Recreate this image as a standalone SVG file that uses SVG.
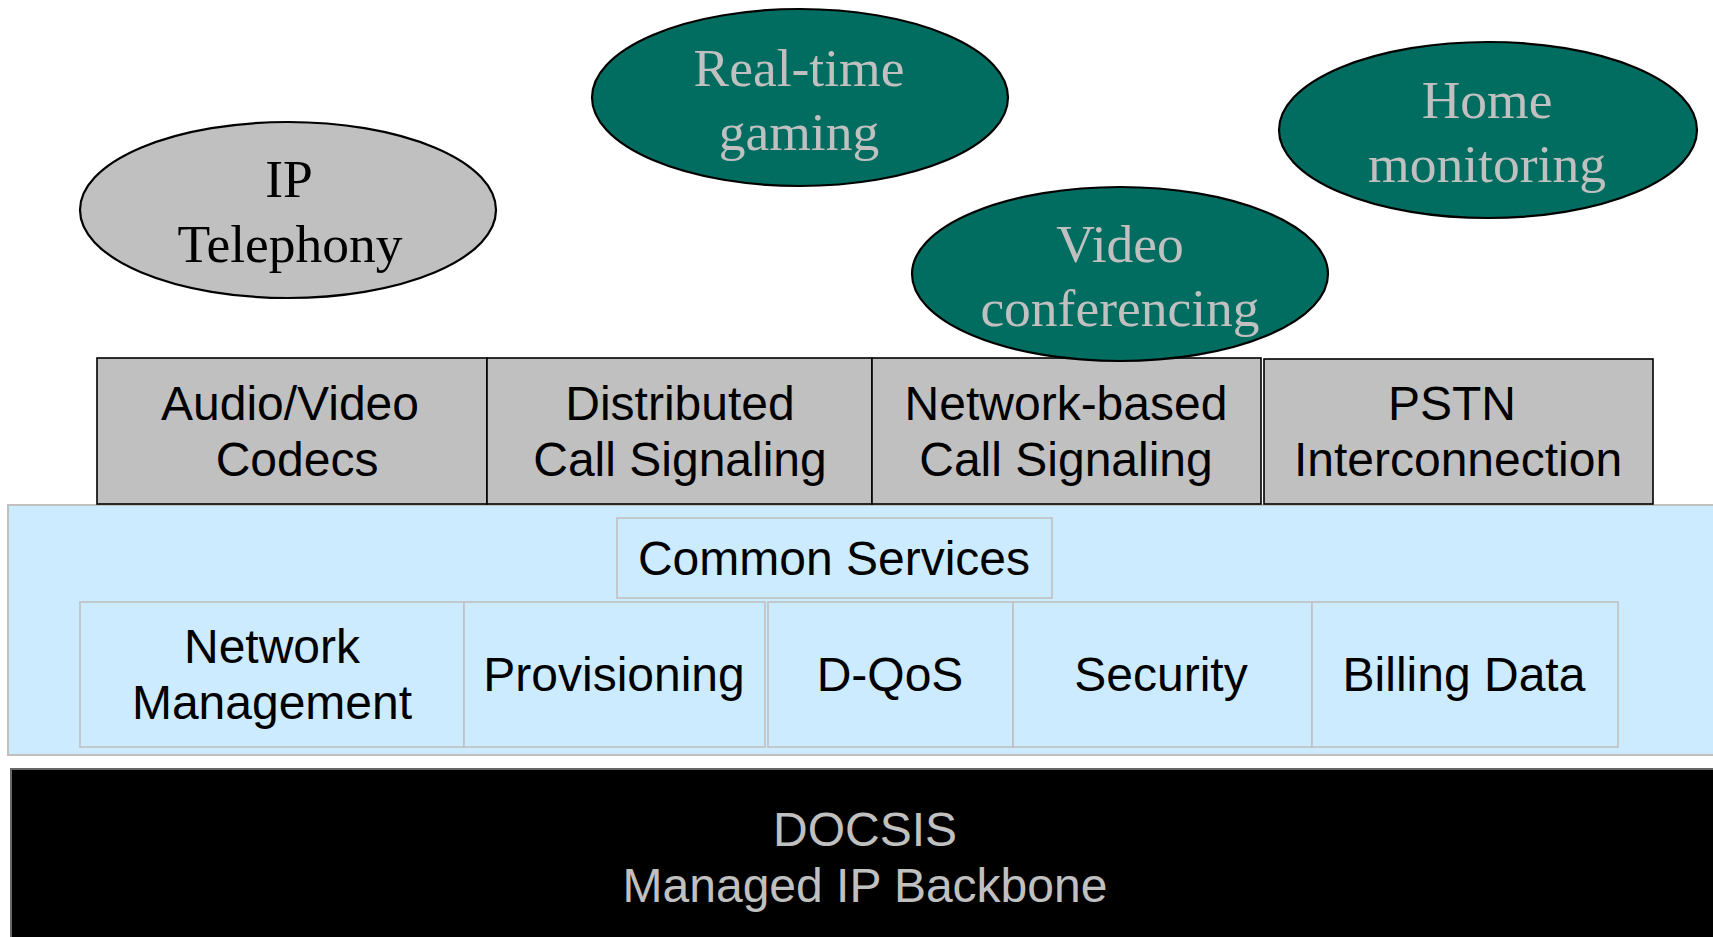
<svg xmlns="http://www.w3.org/2000/svg" width="1713" height="937" viewBox="0 0 1713 937">
<style>
.serif{font-family:"Liberation Serif","Times New Roman",serif;font-size:53.5px;text-anchor:middle}
.sans{font-family:"Liberation Sans",Arial,sans-serif;font-size:48px;text-anchor:middle}
.app{fill:#016D60;stroke:#000;stroke-width:2.2}
.apptxt{fill:#C0C0C0}
.gbox{fill:#C0C0C0;stroke:#000;stroke-width:1.6}
.sub{fill:#CCEBFF;stroke:#C0C0C0;stroke-width:1.6}
</style>
<rect width="1713" height="937" fill="#FFFFFF"/>
<g id="common-services-panel">
<rect x="8" y="505" width="1712" height="250" fill="#CCEBFF" stroke="#C0C0C0" stroke-width="2"/>
</g>
<g id="common-services">
<rect class="sub" x="617" y="518" width="435" height="80"/>
<text class="sans" x="834" y="575">Common Services</text>
</g>
<g id="network-management">
<rect class="sub" x="80" y="602" width="384" height="145"/>
<text class="sans" x="272" y="663">Network</text>
<text class="sans" x="272" y="719">Management</text>
</g>
<g id="provisioning">
<rect class="sub" x="464" y="602" width="301" height="145"/>
<text class="sans" x="614" y="691">Provisioning</text>
</g>
<g id="d-qos">
<rect class="sub" x="768" y="602" width="245" height="145"/>
<text class="sans" x="890" y="691">D-QoS</text>
</g>
<g id="security">
<rect class="sub" x="1013" y="602" width="299" height="145"/>
<text class="sans" x="1161" y="691">Security</text>
</g>
<g id="billing-data">
<rect class="sub" x="1312" y="602" width="306" height="145"/>
<text class="sans" x="1464" y="691">Billing Data</text>
</g>
<g id="docsis">
<rect x="11" y="769" width="1710" height="180" fill="#000000" stroke="#666666" stroke-width="2"/>
<text class="sans" x="865" y="846" fill="#C0C0C0">DOCSIS</text>
<text class="sans" x="865" y="902" fill="#C0C0C0">Managed IP Backbone</text>
</g>
<g id="audio-video-codecs">
<rect class="gbox" x="97" y="358" width="390" height="146"/>
<text class="sans" x="290" y="420">Audio/Video</text>
<text class="sans" x="297" y="476">Codecs</text>
</g>
<g id="distributed-call-signaling">
<rect class="gbox" x="487" y="358" width="385" height="146"/>
<text class="sans" x="680" y="420">Distributed</text>
<text class="sans" x="680" y="476">Call Signaling</text>
</g>
<g id="network-based-call-signaling">
<rect class="gbox" x="872" y="358" width="389" height="146" stroke-width="2.2"/>
<text class="sans" x="1066" y="420">Network-based</text>
<text class="sans" x="1066" y="476">Call Signaling</text>
</g>
<g id="pstn-interconnection">
<rect class="gbox" x="1264" y="359" width="389" height="145" stroke="#222"/>
<text class="sans" x="1452" y="420">PSTN</text>
<text class="sans" x="1458" y="476">Interconnection</text>
</g>
<g id="ip-telephony">
<ellipse cx="288" cy="210" rx="208" ry="88" fill="#C0C0C0" stroke="#000" stroke-width="2.2"/>
<text class="serif" x="289" y="197">IP</text>
<text class="serif" x="290" y="262">Telephony</text>
</g>
<g id="real-time-gaming">
<ellipse class="app" cx="800" cy="97.5" rx="208" ry="88.5"/>
<text class="serif apptxt" x="799" y="86">Real-time</text>
<text class="serif apptxt" x="799" y="150">gaming</text>
</g>
<g id="home-monitoring">
<ellipse class="app" cx="1488" cy="130" rx="209" ry="88"/>
<text class="serif apptxt" x="1487" y="118">Home</text>
<text class="serif apptxt" x="1487" y="182">monitoring</text>
</g>
<g id="video-conferencing">
<ellipse class="app" cx="1120" cy="274" rx="208" ry="87"/>
<text class="serif apptxt" x="1120" y="262">Video</text>
<text class="serif apptxt" x="1120" y="326">conferencing</text>
</g>
<g id="connectors"></g>
</svg>
